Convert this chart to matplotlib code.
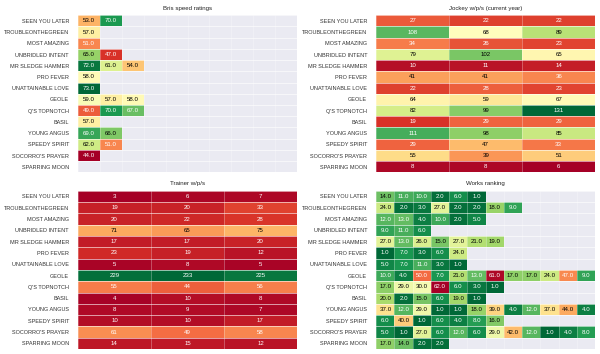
import matplotlib
matplotlib.use('Agg')
import matplotlib.pyplot as plt
import numpy as np

plt.rcParams['font.family'] = ['Liberation Sans', 'DejaVu Sans']

horses = ['SEEN YOU LATER', 'TROUBLEONTHEGREEN', 'MOST AMAZING', 'UNBRIDLED INTENT',
          'MR SLEDGE HAMMER', 'PRO FEVER', 'UNATTAINABLE LOVE', 'GEOLE', "Q'S TOPNOTCH",
          'BASIL', 'YOUNG ANGUS', 'SPEEDY SPIRIT', "SOCORRO'S PRAYER", 'SPARRING MOON']

# Bris speed ratings (ragged, up to 10 columns)
bris = [
    [53, 70],
    [57],
    [51],
    [65, 47],
    [72, 61, 54],
    [58],
    [73],
    [59, 57, 58],
    [49, 70, 67],
    [57],
    [69, 66],
    [62, 51],
    [44],
    [],
]

# Jockey w/p/s (current year)
jockey = [
    [27, 22, 22],
    [108, 68, 89],
    [34, 26, 23],
    [79, 102, 65],
    [10, 11, 14],
    [41, 41, 36],
    [22, 28, 23],
    [64, 59, 67],
    [82, 99, 131],
    [19, 29, 29],
    [111, 98, 85],
    [29, 47, 33],
    [55, 39, 51],
    [8, 8, 6],
]

# Trainer w/p/s
trainer = [
    [3, 6, 7],
    [19, 20, 33],
    [20, 22, 28],
    [71, 65, 75],
    [17, 17, 20],
    [23, 19, 12],
    [5, 8, 5],
    [229, 233, 225],
    [55, 44, 56],
    [4, 10, 8],
    [8, 9, 7],
    [10, 10, 17],
    [61, 49, 58],
    [14, 15, 12],
]

# Works ranking (ragged, up to 12 columns)
works = [
    [14, 11, 10, 2, 6, 1],
    [24, 2, 3, 27, 2, 2, 18, 9],
    [12, 13, 4, 10, 2, 5],
    [9, 11, 6],
    [27, 13, 26, 15, 27, 21, 19],
    [1, 7, 3, 6, 24],
    [5, 7, 11, 3, 1],
    [10, 4, 50, 7, 21, 13, 61, 17, 17, 24, 47, 9],
    [17, 29, 30, 62, 6, 3, 1],
    [20, 2, 15, 6, 19, 1],
    [37, 12, 29, 1, 1, 18, 39, 4, 12, 37, 44, 4],
    [6, 40, 1, 6, 4, 8, 16],
    [5, 1, 27, 6, 12, 6, 29, 42, 12, 1, 4, 8],
    [17, 14, 2, 2],
]


def to_grid(rows, ncols):
    arr = np.full((len(rows), ncols), np.nan)
    for i, r in enumerate(rows):
        arr[i, :len(r)] = r
    return np.ma.masked_invalid(arr)


def luminance(c):
    rgb = np.array(c[:3])
    rgb = np.where(rgb <= .03928, rgb / 12.92, ((rgb + .055) / 1.055) ** 2.4)
    return 0.2126 * rgb[0] + 0.7152 * rgb[1] + 0.0722 * rgb[2]


def heat(ax, rows, ncols, title, cmap, fmt):
    data = to_grid(rows, ncols)
    cm = plt.get_cmap(cmap)
    norm = plt.Normalize(data.min(), data.max())
    ax.set_facecolor('#EAEAF2')
    ax.pcolormesh(np.arange(ncols + 1), np.arange(len(rows) + 1), data,
                  cmap=cm, norm=norm, zorder=1)
    for i in range(data.shape[0]):
        for j in range(data.shape[1]):
            v = data[i, j]
            if np.ma.is_masked(v):
                continue
            col = cm(norm(v))
            tc = 'black' if luminance(col) > 0.408 else 'white'
            ax.text(j + 0.5, i + 0.5, format(v, fmt), ha='center', va='center',
                    fontsize=4.4, color=tc, zorder=3)
    ax.set_xlim(0, ncols)
    ax.set_ylim(len(rows), 0)
    ax.set_xticks([])
    ax.set_yticks(np.arange(len(rows)) + 0.5)
    ax.set_yticklabels(horses, fontsize=4.0, color='#333333')
    ax.set_xticks(np.arange(ncols + 1), minor=True)
    ax.set_yticks(np.arange(len(rows) + 1), minor=True)
    ax.tick_params(which='both', length=0, pad=6.5)
    ax.grid(which='minor', axis='y', color='white', linewidth=0.7, alpha=0.6, zorder=2)
    ax.grid(which='minor', axis='x', color='white', linewidth=0.5, alpha=0.4, zorder=2)
    ax.set_axisbelow(False)
    for s in ax.spines.values():
        s.set_visible(False)
    ax.set_title(title, fontsize=4.4, pad=4, color='#222222')


fig = plt.figure(figsize=(6, 3.54), dpi=100)
ax1 = fig.add_axes([0.130, 0.513, 0.365, 0.444])
ax2 = fig.add_axes([0.627, 0.513, 0.365, 0.444])
ax3 = fig.add_axes([0.130, 0.014, 0.365, 0.447])
ax4 = fig.add_axes([0.627, 0.014, 0.365, 0.447])

heat(ax1, bris, 10, 'Bris speed ratings', 'RdYlGn', '.1f')
heat(ax2, jockey, 3, 'Jockey w/p/s (current year)', 'RdYlGn', '.0f')
heat(ax3, trainer, 3, 'Trainer w/p/s', 'RdYlGn', '.0f')
heat(ax4, works, 12, 'Works ranking', 'RdYlGn_r', '.1f')

fig.savefig('out.png', dpi=100)
